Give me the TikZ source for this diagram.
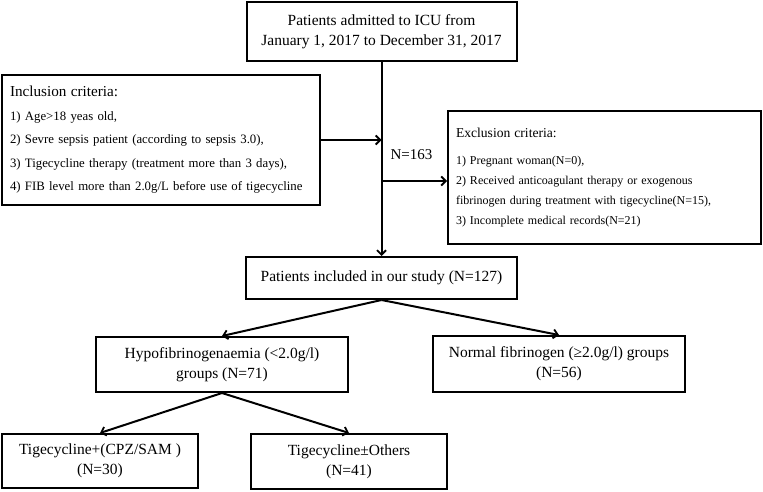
\documentclass[tikz,border=0pt]{standalone}
\usepackage{fontspec}
\setmainfont{Liberation Serif}
\usetikzlibrary{arrows.meta}
\begin{document}
\begin{tikzpicture}[x=1pt,y=-1pt,
  box/.style={draw,line width=2pt,inner sep=0pt,align=center,
    font=\fontsize{15.5}{20}\selectfont},
  crit/.style={draw,line width=2pt,inner xsep=8pt,inner ysep=0pt,align=left},
  conn/.style={line width=2pt,-{Straight Barb[length=4.5pt,width=9pt,line width=1.8pt]}},
  lbl/.style={font=\fontsize{15}{18}\selectfont,inner sep=0pt}]
\useasboundingbox (0,0) rectangle (763,492);
\node[box,minimum width=270pt,minimum height=59pt] (top) at (381.5,31.5)
  {Patients admitted to ICU from\\January 1, 2017 to December 31, 2017};
\node[crit,minimum height=130pt,text width=302pt,font=\fontsize{12.8}{23.5}\selectfont] (incl) at (161,140)
  {{\fontsize{15.2}{23.5}\selectfont Inclusion criteria:}\\
   1) Age>18 yeas old,\\
   2) Sevre sepsis patient (according to sepsis 3.0),\\
   3) Tigecycline therapy (treatment more than 3 days),\\
   4) FIB level more than 2.0g/L before use of tigecycline};
\node[crit,minimum height=133pt,text width=297pt,font=\fontsize{12}{20}\selectfont] (excl) at (604.5,177.5)
  {{\fontsize{13.6}{20}\selectfont Exclusion criteria:}\\[7pt]
   1) Pregnant woman(N=0),\\
   2) Received anticoagulant therapy or exogenous\\
   fibrinogen during treatment with tigecycline(N=15),\\
   3) Incomplete medical records(N=21)};
\node[box,minimum width=271pt,minimum height=42pt] (pat) at (381.5,278)
  {Patients included in our study (N=127)};
\node[box,minimum width=252pt,minimum height=55pt] (hypo) at (222,364.5)
  {Hypofibrinogenaemia (<2.0g/l)\\groups (N=71)};
\node[box,minimum width=252pt,minimum height=56pt] (norm) at (559,364)
  {Normal fibrinogen (≥2.0g/l) groups\\(N=56)};
\node[box,minimum width=196pt,minimum height=54pt] (cpz) at (100,461)
  {Tigecycline+(CPZ/SAM )\\(N=30)};
\node[box,minimum width=196pt,minimum height=55pt] (oth) at (349,461.5)
  {Tigecycline±Others\\(N=41)};
\node[lbl] (n163) at (411.5,155) {N=163};
\coordinate (br) at (381.5,181);
\draw[conn] (top.south) -- (pat.north);
\draw[conn] (incl.east) -- (incl.east -| top.south);
\draw[conn] (br) -- (br -| excl.west);
\draw[conn] (pat.south) -- (hypo.north);
\draw[conn] (pat.south) -- (norm.north);
\draw[conn] (hypo.south) -- (cpz.north);
\draw[conn] (hypo.south) -- (oth.north);
\end{tikzpicture}
\end{document}
